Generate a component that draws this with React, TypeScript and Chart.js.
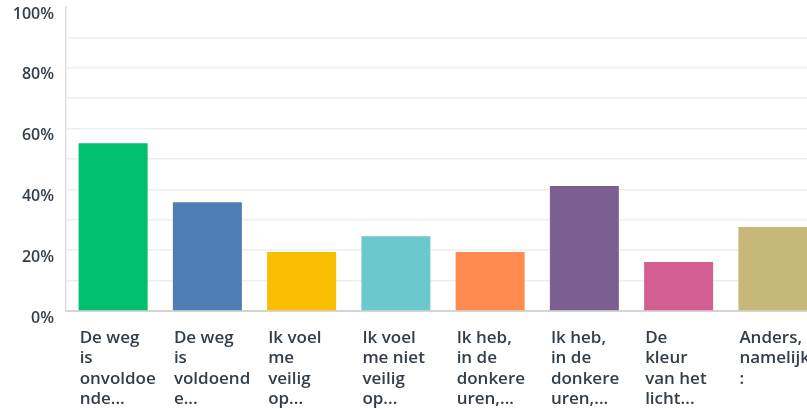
import React, { useEffect, useRef } from "react";
import { Chart, registerables } from "chart.js";

Chart.register(...registerables);

const categories: string[][] = [
  ["De weg", "is", "onvoldoe", "nde..."],
  ["De weg", "is", "voldoend", "e..."],
  ["Ik voel", "me", "veilig", "op..."],
  ["Ik voel", "me niet", "veilig", "op..."],
  ["Ik heb,", "in de", "donkere", "uren,..."],
  ["Ik heb,", "in de", "donkere", "uren,..."],
  ["De", "kleur", "van het", "licht..."],
  ["Anders,", "namelijk", ":"],
];

const values: number[] = [55.2, 35.8, 19.4, 24.6, 19.4, 41.1, 16.1, 27.6];

const barColors: string[] = [
  "#00BF6F",
  "#507CB6",
  "#F9BE00",
  "#6BC8CD",
  "#FF8B4F",
  "#7D5E90",
  "#D25F90",
  "#C7B879",
];

const yTicks: number[] = [0, 20, 40, 60, 80, 100];

const TEXT = "#333e48";
const FONT = "'Open Sans', sans-serif";

export default function App() {
  const ref = useRef<HTMLCanvasElement | null>(null);

  useEffect(() => {
    if (!ref.current) return;
    const chart = new Chart(ref.current, {
      type: "bar",
      data: {
        labels: categories,
        datasets: [
          {
            data: values,
            backgroundColor: barColors,
            borderWidth: 0,
            barPercentage: 0.732,
            categoryPercentage: 1,
          },
        ],
      },
      options: {
        responsive: false,
        animation: false,
        devicePixelRatio: 1,
        layout: { padding: { top: 7, right: 0, bottom: 0, left: 0 } },
        plugins: {
          legend: { display: false },
          tooltip: { enabled: false },
        },
        scales: {
          x: {
            grid: { display: false, drawTicks: false },
            border: { display: true, color: "#d4d4d4", width: 2 },
            ticks: {
              autoSkip: false,
              maxRotation: 0,
              minRotation: 0,
              align: "start",
              labelOffset: -33.5,
              padding: 17,
              color: TEXT,
              font: { family: FONT, size: 17, weight: "600", lineHeight: 1.2 },
            },
            afterFit: (scale: any) => {
              scale.height = 98;
              scale.paddingLeft = 0;
              scale.paddingRight = 0;
            },
          },
          y: {
            min: 0,
            max: 100,
            grid: {
              drawTicks: false,
              color: (ctx: any) =>
                ctx.tick && ctx.tick.value === 100 ? "rgba(0,0,0,0)" : "#eeeeee",
              lineWidth: 1.5,
            },
            border: { display: true, color: "#dddddd", width: 1.5 },
            ticks: {
              stepSize: 10,
              autoSkip: false,
              padding: 12,
              labelOffset: 7,
              color: TEXT,
              font: { family: FONT, size: 16, weight: "600" },
              callback: (v: any) => (yTicks.includes(Number(v)) ? v + "%" : ""),
            },
            afterFit: (scale: any) => {
              scale.width = 66;
              scale.paddingTop = 0;
              scale.paddingBottom = 0;
            },
          },
        },
      },
    });
    return () => chart.destroy();
  }, []);

  return (
    <div
      style={{
        position: "fixed",
        left: 0,
        top: 0,
        width: 807,
        height: 409,
        overflow: "hidden",
        background: "#fff",
      }}
    >
      <canvas ref={ref} width={820} height={409} style={{ display: "block" }} />
    </div>
  );
}
